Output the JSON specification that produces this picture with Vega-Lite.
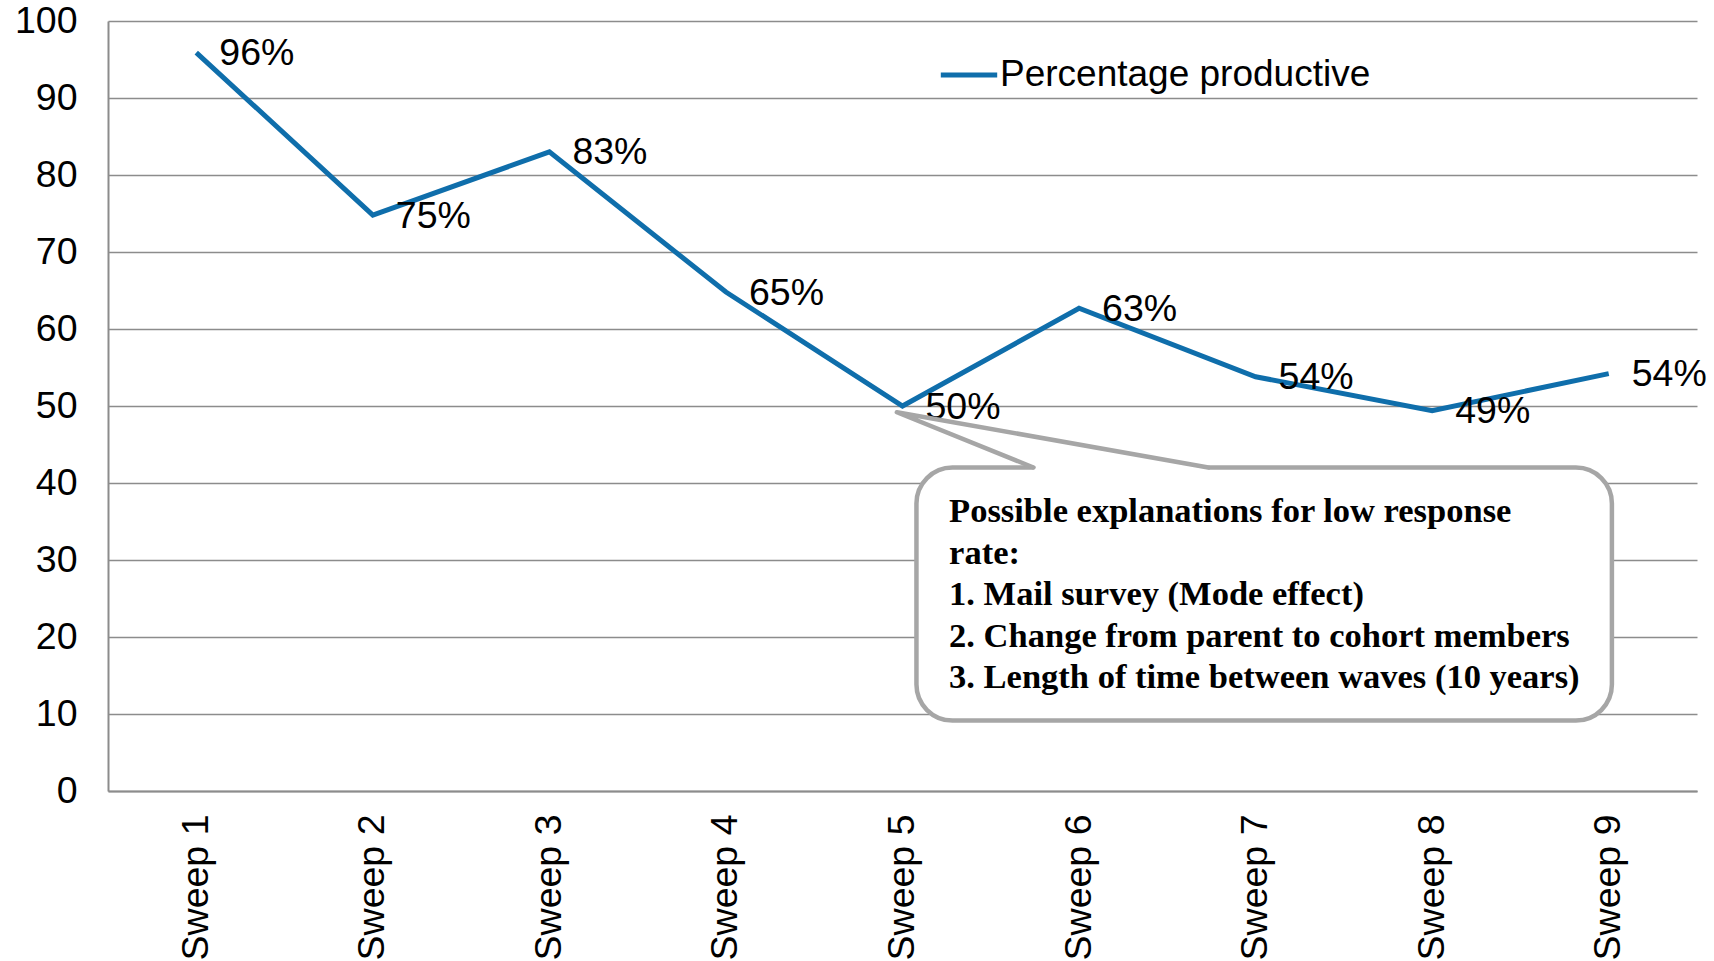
{
  "$schema": "https://vega.github.io/schema/vega-lite/v6.json",
  "width": 1589,
  "height": 770,
  "autosize": {"type": "none"},
  "padding": {"left": 108, "top": 21, "right": 17, "bottom": 170},
  "background": "white",
  "config": {"view": {"stroke": null}, "font": "Liberation Sans"},
  "datasets": {
    "main": [
      {"sweep": 1, "pct": 95.9, "label": "96%"},
      {"sweep": 2, "pct": 74.8, "label": "75%"},
      {"sweep": 3, "pct": 83.0, "label": "83%"},
      {"sweep": 4, "pct": 64.8, "label": "65%"},
      {"sweep": 5, "pct": 50.0, "label": "50%"},
      {"sweep": 6, "pct": 62.7, "label": "63%"},
      {"sweep": 7, "pct": 53.8, "label": "54%"},
      {"sweep": 8, "pct": 49.4, "label": "49%"},
      {"sweep": 9, "pct": 54.2, "label": "54%"}
    ],
    "box": [{"x1": 5.079, "x2": 9.018, "y1": 9.14, "y2": 42.01}],
    "pointer": [
      {"px": 5.742, "py": 42.01, "o": 1},
      {"px": 4.968, "py": 49.19, "o": 2},
      {"px": 6.732, "py": 42.01, "o": 3}
    ],
    "gap": [
      {"gx": 5.742, "gy": 42.01},
      {"gx": 6.732, "gy": 42.01}
    ],
    "notes": [
      {"tx": 5.264, "ty": 34.94, "t": "Possible explanations for low response"},
      {"tx": 5.264, "ty": 29.53, "t": "rate:"},
      {"tx": 5.264, "ty": 24.13, "t": "1. Mail survey (Mode effect)"},
      {"tx": 5.264, "ty": 18.73, "t": "2. Change from parent to cohort members"},
      {"tx": 5.264, "ty": 13.32, "t": "3. Length of time between waves (10 years)"}
    ]
  },
  "layer": [
    {
      "data": {"name": "main"},
      "mark": {"type": "line", "strokeWidth": 5, "strokeJoin": "miter"},
      "encoding": {
        "x": {"field": "sweep", "type": "quantitative",
          "scale": {"domain": [0.5, 9.5], "nice": false, "zero": false},
          "axis": {"title": null, "values": [1,2,3,4,5,6,7,8,9], "labelExpr": "'Sweep ' + datum.value", "labelAngle": 270, "labelAlign": "right", "labelBaseline": "middle", "labelFontSize": 37.5, "labelFont": "Liberation Sans", "labelColor": "black", "labelPadding": 23, "ticks": false, "grid": false, "domainColor": "#8c8c8c", "domainWidth": 2}},
        "y": {"field": "pct", "type": "quantitative",
          "scale": {"domain": [0, 100], "nice": false},
          "axis": {"title": null, "values": [0,10,20,30,40,50,60,70,80,90,100], "labelFontSize": 37.5, "labelFont": "Liberation Sans", "labelColor": "black", "labelPadding": 31, "ticks": false, "grid": true, "gridColor": "#8c8c8c", "gridWidth": 1.6, "gridOpacity": 1, "domainColor": "#8c8c8c", "domainWidth": 2}},
        "color": {"datum": "Percentage productive", "scale": {"range": ["#0F6EAB"]},
          "legend": {"orient": "none", "legendX": 830, "legendY": 23, "title": null, "symbolType": "stroke", "symbolSize": 3180, "symbolStrokeWidth": 5, "labelFontSize": 37, "labelFont": "Liberation Sans", "labelColor": "black", "labelOffset": 0, "padding": 0, "labelLimit": 800}}
      }
    },
    {
      "data": {"name": "main"},
      "mark": {"type": "text", "align": "left", "baseline": "middle", "dx": 23, "dy": 1.5, "fontSize": 37.5, "font": "Liberation Sans", "color": "black"},
      "encoding": {
        "x": {"field": "sweep", "type": "quantitative", "scale": {"domain": [0.5, 9.5], "nice": false, "zero": false}},
        "y": {"field": "pct", "type": "quantitative", "scale": {"domain": [0, 100], "nice": false}},
        "text": {"field": "label"}
      }
    },
    {
      "data": {"name": "box"},
      "mark": {"type": "rect", "fill": "white", "stroke": "#a6a6a6", "strokeWidth": 4.5, "cornerRadius": 36},
      "encoding": {
        "x": {"field": "x1", "type": "quantitative", "scale": {"domain": [0.5, 9.5], "nice": false, "zero": false}},
        "x2": {"field": "x2"},
        "y": {"field": "y1", "type": "quantitative", "scale": {"domain": [0, 100], "nice": false}},
        "y2": {"field": "y2"}
      }
    },
    {
      "data": {"name": "gap"},
      "mark": {"type": "line", "stroke": "white", "strokeWidth": 7},
      "encoding": {
        "x": {"field": "gx", "type": "quantitative", "scale": {"domain": [0.5, 9.5], "nice": false, "zero": false}},
        "y": {"field": "gy", "type": "quantitative", "scale": {"domain": [0, 100], "nice": false}}
      }
    },
    {
      "data": {"name": "pointer"},
      "mark": {"type": "line", "stroke": "#a6a6a6", "strokeWidth": 4.5, "strokeJoin": "round", "strokeCap": "round"},
      "encoding": {
        "x": {"field": "px", "type": "quantitative", "scale": {"domain": [0.5, 9.5], "nice": false, "zero": false}},
        "y": {"field": "py", "type": "quantitative", "scale": {"domain": [0, 100], "nice": false}},
        "order": {"field": "o"}
      }
    },
    {
      "data": {"name": "notes"},
      "mark": {"type": "text", "align": "left", "baseline": "alphabetic", "fontSize": 34.5, "font": "Liberation Serif", "fontWeight": "bold", "color": "black"},
      "encoding": {
        "x": {"field": "tx", "type": "quantitative", "scale": {"domain": [0.5, 9.5], "nice": false, "zero": false}},
        "y": {"field": "ty", "type": "quantitative", "scale": {"domain": [0, 100], "nice": false}},
        "text": {"field": "t"}
      }
    }
  ]
}
